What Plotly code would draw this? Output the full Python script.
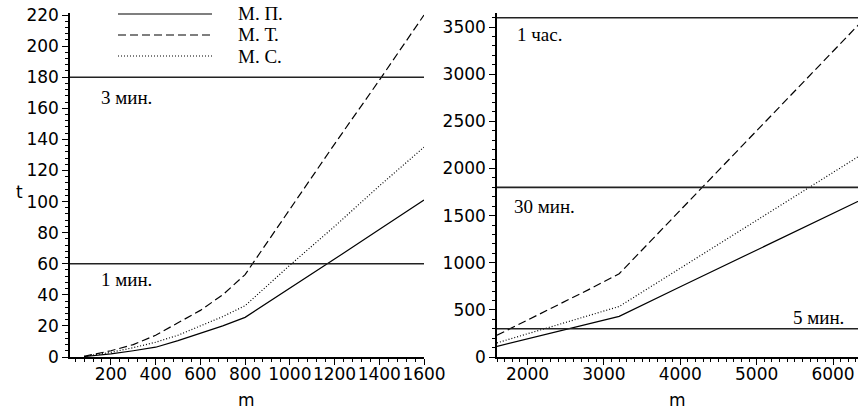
import plotly.graph_objects as go

# Small problem sizes
m_small = [80, 200, 300, 400, 500, 600, 700, 800, 1000, 1200, 1400, 1600]
t_mp_small = [0.3, 2, 4, 6.3, 10.5, 15, 20, 25.5, 44, 63, 82, 101]
t_mt_small = [0.5, 4, 8, 14, 22, 30, 40, 53, 95, 137, 178, 220]
t_ms_small = [0.4, 3, 6, 9.5, 14, 20, 26, 33, 59, 84, 110, 135]

# Large problem sizes
m_large = [1600, 2000, 2400, 2800, 3200, 4000, 4800, 5600, 6400]
t_mp_large = [112, 190, 270, 350, 431, 745, 1058, 1370, 1680]
t_mt_large = [231, 390, 550, 715, 883, 1558, 2232, 2907, 3581]
t_ms_large = [150, 245, 340, 440, 536, 942, 1349, 1755, 2161]

# Time limits, seconds
limits_small = [60, 180]
limits_small_text = ["1 мин.", "3 мин."]
limits_large = [300, 1800, 3600]
limits_large_text = ["5 мин.", "30 мин.", "1 час."]

series_names = ["М. П.", "М. Т.", "М. С."]
series_dash = ["solid", "8px,4px", "1px,2px"]

W, H = 858, 412
TICK_FONT = dict(family="DejaVu Sans", size=17, color="black")
SERIF = dict(family="Liberation Serif", size=19, color="black")


def px_x(p):
    return p / W


def px_y(p):
    return (H - p) / H


fig = go.Figure()

small = [t_mp_small, t_mt_small, t_ms_small]
large = [t_mp_large, t_mt_large, t_ms_large]
for i in range(3):
    fig.add_trace(go.Scatter(x=m_small, y=small[i], mode="lines",
                             line=dict(color="black", width=1.2, dash=series_dash[i]),
                             xaxis="x", yaxis="y", showlegend=False))
    fig.add_trace(go.Scatter(x=m_large, y=large[i], mode="lines",
                             line=dict(color="black", width=1.2, dash=series_dash[i]),
                             xaxis="x2", yaxis="y2", showlegend=False))

x1_range = [17, 1600]
x2_range = [1600, 6327]
for v in limits_small:
    fig.add_trace(go.Scatter(x=x1_range, y=[v, v], mode="lines",
                             line=dict(color="#222", width=1.6),
                             xaxis="x", yaxis="y", showlegend=False))
for v in limits_large:
    fig.add_trace(go.Scatter(x=x2_range, y=[v, v], mode="lines",
                             line=dict(color="#222", width=1.6),
                             xaxis="x2", yaxis="y2", showlegend=False))

ydom = [px_y(357), px_y(13)]
axis_common = dict(showgrid=False, zeroline=False, showline=True, linecolor="black",
                   linewidth=1.5, ticks="outside", ticklen=6, tickwidth=1.3,
                   tickcolor="black", tickfont=TICK_FONT, automargin=False, tickangle=0)

fig.update_layout(
    width=W, height=H,
    margin=dict(l=0, r=0, t=0, b=0),
    paper_bgcolor="white", plot_bgcolor="white",
    showlegend=False,
    xaxis=dict(domain=[px_x(70), px_x(424)], range=x1_range, anchor="y",
               dtick=200, tick0=0, ticklabelstandoff=-5,
               minor=dict(dtick=40, tick0=0, ticks="outside", ticklen=3, tickcolor="black"),
               **axis_common),
    yaxis=dict(domain=ydom, range=[0, 221.3], anchor="x",
               dtick=20, tick0=0,
               minor=dict(dtick=4, tick0=0, ticks="outside", ticklen=3, tickcolor="black"),
               **axis_common),
    xaxis2=dict(domain=[px_x(497), 1.0], range=x2_range, anchor="y2",
                dtick=1000, tick0=0, ticklabelstandoff=-5,
                minor=dict(dtick=100, tick0=0, ticks="outside", ticklen=3, tickcolor="black"),
                **axis_common),
    yaxis2=dict(domain=ydom, range=[0, 3650], anchor="x2",
                dtick=500, tick0=0,
                minor=dict(dtick=100, tick0=0, ticks="outside", ticklen=3, tickcolor="black"),
                **axis_common),
)

annotations = []
# axis titles
annotations.append(dict(text="t", x=px_x(19), y=px_y(192), xref="paper", yref="paper",
                        showarrow=False, font=TICK_FONT, xanchor="center", yanchor="middle"))
for xc in (246, 677):
    annotations.append(dict(text="m", x=px_x(xc), y=px_y(400), xref="paper", yref="paper",
                            showarrow=False, font=TICK_FONT, xanchor="center", yanchor="middle"))

# limit labels
annotations.append(dict(text=limits_small_text[1], x=px_x(99), y=px_y(97), xref="paper",
                        yref="paper", showarrow=False, font=SERIF, xanchor="left", yanchor="middle"))
annotations.append(dict(text=limits_small_text[0], x=px_x(99), y=px_y(280), xref="paper",
                        yref="paper", showarrow=False, font=SERIF, xanchor="left", yanchor="middle"))
annotations.append(dict(text=limits_large_text[2], x=px_x(515), y=px_y(35), xref="paper",
                        yref="paper", showarrow=False, font=SERIF, xanchor="left", yanchor="middle"))
annotations.append(dict(text=limits_large_text[1], x=px_x(512), y=px_y(206), xref="paper",
                        yref="paper", showarrow=False, font=SERIF, xanchor="left", yanchor="middle"))
annotations.append(dict(text=limits_large_text[0], x=px_x(846), y=px_y(317), xref="paper",
                        yref="paper", showarrow=False, font=SERIF, xanchor="right", yanchor="middle"))

# legend
shapes = []
legend_rows = [14, 35, 56]
for name, dash, yr in zip(series_names, series_dash, legend_rows):
    shapes.append(dict(type="line", xref="paper", yref="paper",
                       x0=px_x(118), x1=px_x(212), y0=px_y(yr), y1=px_y(yr),
                       line=dict(color="black", width=1.2, dash=dash)))
    annotations.append(dict(text=name, x=px_x(236), y=px_y(yr), xref="paper", yref="paper",
                            showarrow=False, font=SERIF, xanchor="left", yanchor="middle"))

fig.update_layout(annotations=annotations, shapes=shapes)
fig.write_html("out.html")
